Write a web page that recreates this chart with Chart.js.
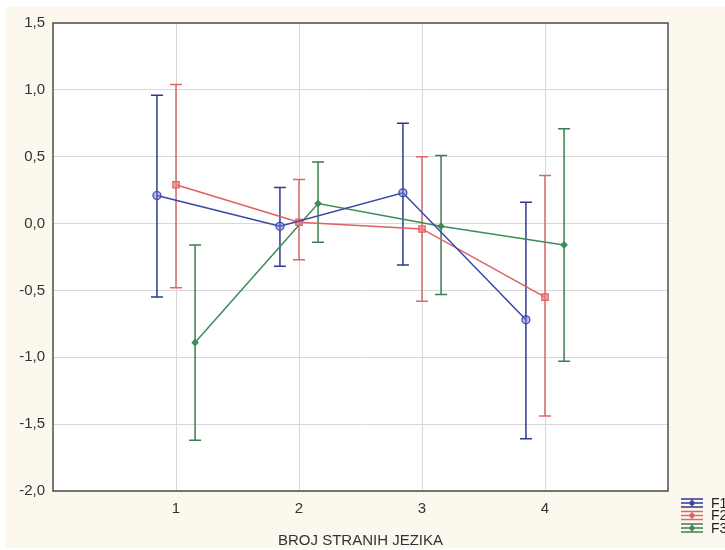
<!DOCTYPE html>
<html>
<head>
<meta charset="utf-8">
<script src="https://cdn.jsdelivr.net/npm/chart.js@4"></script>
<style>
  html, body { margin: 0; padding: 0; background: #fff; }
  canvas { display: block; }
</style>
</head>
<body>
<canvas id="chart" width="725" height="550"></canvas>
<script>
// means and confidence limits
const categories = [1, 2, 3, 4];
const seriesNames = ['F1', 'F2', 'F3'];

const f1Mean  = [0.21, -0.02, 0.23, -0.72];
const f1Upper = [0.96, 0.27, 0.75, 0.16];
const f1Lower = [-0.55, -0.32, -0.31, -1.61];

const f2Mean  = [0.29, 0.01, -0.04, -0.55];
const f2Upper = [1.04, 0.33, 0.50, 0.36];
const f2Lower = [-0.48, -0.27, -0.58, -1.44];

const f3Mean  = [-0.89, 0.15, -0.02, -0.16];
const f3Upper = [-0.16, 0.46, 0.51, 0.71];
const f3Lower = [-1.62, -0.14, -0.53, -1.03];

const yTicks = [-2.0, -1.5, -1.0, -0.5, 0.0, 0.5, 1.0, 1.5];

const dodge = [-0.155, 0, 0.155];
const colors = ['#3c44a8', '#e06060', '#3a8c58'];
const barColors = ['#2f3a8c', '#d96a6a', '#3a7f52'];
const fills = ['rgba(110,120,220,0.5)', 'rgba(240,130,130,0.7)', '#3a8c58'];
const shapes = ['circle', 'rect', 'rectRot'];
const radii = [4, 4.5, 3];

const means = [f1Mean, f2Mean, f3Mean];
const uppers = [f1Upper, f2Upper, f3Upper];
const lowers = [f1Lower, f2Lower, f3Lower];

const datasets = seriesNames.map((name, i) => ({
  label: name,
  data: categories.map((c, j) => ({ x: c + dodge[i], y: means[i][j] })),
  showLine: true,
  borderColor: colors[i],
  borderWidth: 1.5,
  pointStyle: shapes[i],
  pointRadius: radii[i],
  pointBorderColor: colors[i],
  pointBackgroundColor: fills[i],
  pointBorderWidth: 1.2
}));

const backdrop = {
  id: 'backdrop',
  beforeDraw(chart) {
    const { ctx, chartArea: a } = chart;
    ctx.save();
    ctx.fillStyle = '#fcf8ee';
    ctx.fillRect(6, 7, 719, 541);
    ctx.fillStyle = '#fff';
    ctx.fillRect(a.left, a.top, a.right - a.left, a.bottom - a.top);
    ctx.restore();
  },
  afterDraw(chart) {
    const { ctx, chartArea: a } = chart;
    ctx.save();
    ctx.strokeStyle = '#4d4d4d';
    ctx.lineWidth = 1.5;
    ctx.strokeRect(a.left, a.top, a.right - a.left, a.bottom - a.top);
    ctx.restore();
  }
};

const errorBars = {
  id: 'errorBars',
  beforeDatasetsDraw(chart) {
    const { ctx } = chart;
    const xs = chart.scales.x, ys = chart.scales.y;
    ctx.save();
    ctx.lineWidth = 1.5;
    seriesNames.forEach((_, i) => {
      ctx.strokeStyle = barColors[i];
      categories.forEach((c, j) => {
        const x = xs.getPixelForValue(c + dodge[i]);
        const yU = ys.getPixelForValue(uppers[i][j]);
        const yL = ys.getPixelForValue(lowers[i][j]);
        ctx.beginPath();
        ctx.moveTo(x, yU); ctx.lineTo(x, yL);
        ctx.moveTo(x - 6, yU); ctx.lineTo(x + 6, yU);
        ctx.moveTo(x - 6, yL); ctx.lineTo(x + 6, yL);
        ctx.stroke();
      });
    });
    ctx.restore();
  }
};

const sideLegend = {
  id: 'sideLegend',
  afterDraw(chart) {
    const { ctx } = chart;
    ctx.save();
    seriesNames.forEach((name, i) => {
      const y = 503 + i * 12.5;
      const x0 = 681, x1 = 703, xm = 692;
      ctx.strokeStyle = barColors[i];
      ctx.lineWidth = 1.3;
      ctx.beginPath();
      ctx.moveTo(x0, y - 4); ctx.lineTo(x1, y - 4);
      ctx.moveTo(x0, y); ctx.lineTo(x1, y);
      ctx.moveTo(x0, y + 4); ctx.lineTo(x1, y + 4);
      ctx.moveTo(xm, y - 4); ctx.lineTo(xm, y + 4);
      ctx.stroke();
      ctx.fillStyle = colors[i];
      ctx.beginPath();
      ctx.arc(xm, y, 2.5, 0, Math.PI * 2);
      ctx.fill();
      ctx.fillStyle = '#222';
      ctx.font = '14px "Liberation Sans", Arial, sans-serif';
      ctx.textBaseline = 'middle';
      ctx.textAlign = 'left';
      ctx.fillText(name, 711, y + 1);
    });
    ctx.restore();
  }
};

new Chart(document.getElementById('chart'), {
  type: 'scatter',
  data: { datasets },
  plugins: [backdrop, errorBars, sideLegend],
  options: {
    responsive: false,
    animation: false,
    devicePixelRatio: 1,
    layout: { padding: { left: 0, top: 23, right: 57, bottom: 0 } },
    plugins: { legend: { display: false }, tooltip: { enabled: false } },
    scales: {
      x: {
        type: 'linear',
        min: 0,
        max: 5,
        afterFit: s => { s.height = 59; },
        afterBuildTicks: s => { s.ticks = [0, 1, 2, 3, 4, 5].map(v => ({ value: v })); },
        ticks: {
          padding: 9,
          color: '#333',
          font: { family: '"Liberation Sans", Arial, sans-serif', size: 15 },
          callback: v => (v >= 1 && v <= 4 ? String(v) : '')
        },
        grid: {
          drawTicks: false,
          color: c => (c.tick && c.tick.value >= 1 && c.tick.value <= 4 ? '#d8d8d8' : 'rgba(0,0,0,0)'),
          lineWidth: 1
        },
        border: { display: false },
        title: {
          display: true,
          text: 'BROJ STRANIH JEZIKA',
          color: '#333',
          font: { family: '"Liberation Sans", Arial, sans-serif', size: 15 },
          padding: { top: 0, bottom: 0 }
        }
      },
      y: {
        min: -2,
        max: 1.5,
        afterFit: s => { s.width = 53; },
        afterBuildTicks: s => { s.ticks = yTicks.map(v => ({ value: v })); },
        ticks: {
          padding: 8,
          color: '#333',
          font: { family: '"Liberation Sans", Arial, sans-serif', size: 15 },
          callback: v => v.toFixed(1).replace('.', ',')
        },
        grid: { drawTicks: false, color: '#d8d8d8', lineWidth: 1 },
        border: { display: false }
      }
    }
  }
});
</script>
</body>
</html>
